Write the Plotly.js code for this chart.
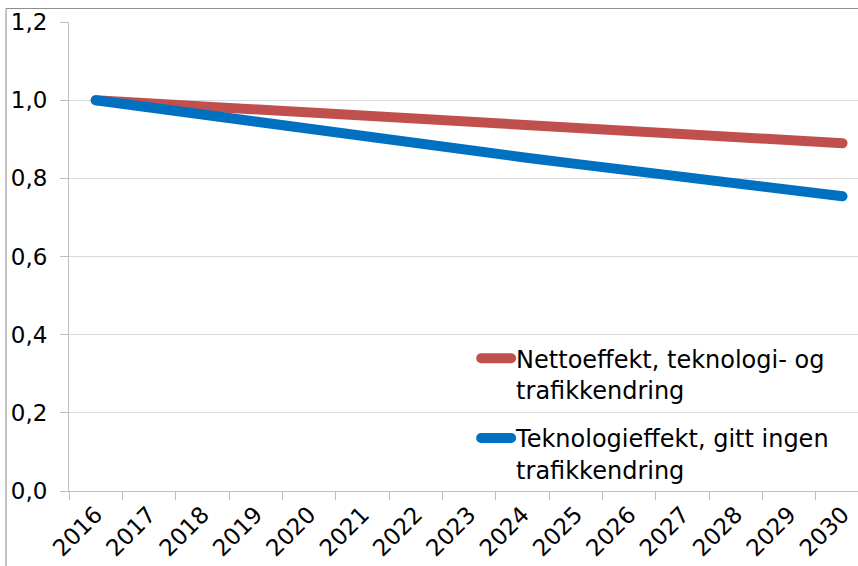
<!DOCTYPE html>
<html>
<head>
<meta charset="utf-8">
<script src="https://cdn.plot.ly/plotly-3.0.1.min.js"></script>
<style>
html,body{margin:0;padding:0;overflow:hidden;background:#fff;}
#chart{width:858px;height:566px;}
.scatterlayer .js-line, .legendlines path { stroke-linecap: round; }
</style>
</head>
<body>
<div id="chart"></div>
<script>
const years = ["2016","2017","2018","2019","2020","2021","2022","2023","2024","2025","2026","2027","2028","2029","2030"];
const nettoName = "Nettoeffekt, teknologi- og<br>trafikkendring";
const teknoName = "Teknologieffekt, gitt ingen<br>trafikkendring";
const netto = [1.000,0.992,0.984,0.976,0.968,0.960,0.952,0.944,0.936,0.928,0.920,0.913,0.905,0.898,0.890];
const tekno = [1.000,0.981,0.962,0.944,0.926,0.908,0.890,0.872,0.854,0.837,0.820,0.803,0.786,0.770,0.754];
const yTicks = [0,0.2,0.4,0.6,0.8,1.0,1.2];
const yTickText = ["0,0","0,2","0,4","0,6","0,8","1,0","1,2"];

const FONT = "DejaVu Sans, Verdana, sans-serif";

const traces = [
  {x: years, y: netto, name: nettoName, type: "scatter", mode: "lines",
   line: {color: "#C0504D", width: 10}, legend: "legend"},
  {x: years, y: tekno, name: teknoName, type: "scatter", mode: "lines",
   line: {color: "#0070C0", width: 10}, legend: "legend2"}
];

const legendCommon = {
  xanchor: "left", yanchor: "top", bgcolor: "rgba(0,0,0,0)",
  font: {family: FONT, size: 24, color: "#000"}, valign: "top",
  itemwidth: 30, borderwidth: 0
};

const layout = {
  width: 858, height: 566,
  margin: {l: 69, r: 0, t: 22, b: 75},
  paper_bgcolor: "#fff", plot_bgcolor: "#fff",
  font: {family: FONT, size: 23, color: "#000"},
  showlegend: true,
  legend: Object.assign({x: 0.516, y: 0.33}, legendCommon),
  legend2: Object.assign({x: 0.516, y: 0.16}, legendCommon),
  xaxis: {
    type: "category", range: [-0.5, 14.29],
    tickson: "boundaries", ticks: "outside", ticklen: 8, tickcolor: "#bfbfbf",
    showgrid: false, showline: true, linecolor: "#bfbfbf", linewidth: 1,
    tickangle: -45, tickfont: {family: FONT, size: 23, color: "#000"},
    zeroline: false, fixedrange: true
  },
  yaxis: {
    range: [0, 1.2], tickvals: yTicks, ticktext: yTickText,
    ticks: "outside", ticklen: 8, tickcolor: "#bfbfbf",
    showgrid: true, gridcolor: "#d9d9d9", gridwidth: 1,
    showline: true, linecolor: "#bfbfbf", linewidth: 1,
    zeroline: false, ticklabelstandoff: 8,
    tickfont: {family: FONT, size: 23, color: "#000"}, fixedrange: true
  },
  shapes: [
    {type: "rect", xref: "paper", yref: "paper",
     x0: -0.0798, x1: 1.05, y0: -0.3, y1: 1.0288,
     line: {color: "#8c8c8c", width: 1}, fillcolor: "rgba(0,0,0,0)", layer: "below"}
  ]
};

Plotly.newPlot("chart", traces, layout, {displayModeBar: false, staticPlot: true});
</script>
</body>
</html>
